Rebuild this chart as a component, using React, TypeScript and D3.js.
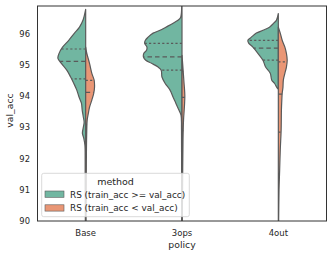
import React from "react";
import * as d3 from "d3";

// split violin: val_acc by policy, hue = method
const policies = ["Base", "3ops", "4out"];
const methods = ["RS (train_acc >= val_acc)", "RS (train_acc < val_acc)"];
const yTicks = [90, 91, 92, 93, 94, 95, 96];

// density profiles: [val_acc, relative density]
const baseHigh: [number, number][] = [
  [96.79, 0], [96.44, 0.07], [96.22, 0.16], [96.03, 0.29], [95.8, 0.44],
  [95.58, 0.6], [95.38, 0.69], [95.22, 0.72], [95.06, 0.63], [94.84, 0.49],
  [94.62, 0.39], [94.42, 0.31], [94.2, 0.23], [93.97, 0.17], [93.78, 0.11],
  [93.56, 0.09], [93.33, 0.06], [93.17, 0.04], [92.98, 0.065], [92.82, 0.085],
  [92.66, 0.05], [92.44, 0.02], [91.96, 0.013], [91.3, 0.013], [90, 0.008], [89.4, 0]
];
const baseLow: [number, number][] = [
  [95.58, 0], [95.38, 0.03], [95.06, 0.1], [94.74, 0.16], [94.52, 0.22],
  [94.29, 0.23], [94.1, 0.21], [93.88, 0.16], [93.65, 0.1], [93.46, 0.07],
  [93.24, 0.04], [92.76, 0.026], [91.96, 0.018], [91.0, 0.013], [90, 0.008], [89.4, 0]
];
const opsHigh: [number, number][] = [
  [96.95, 0.008], [96.63, 0.02], [96.5, 0.05], [96.35, 0.23], [96.22, 0.42],
  [96.12, 0.57], [96.03, 0.75], [95.9, 0.88], [95.8, 0.95], [95.71, 0.97],
  [95.58, 0.91], [95.48, 0.92], [95.38, 0.99], [95.26, 1.0], [95.16, 0.94],
  [95.06, 0.79], [94.94, 0.62], [94.84, 0.54], [94.62, 0.52], [94.42, 0.44],
  [94.2, 0.31], [93.97, 0.23], [93.78, 0.16], [93.56, 0.08], [93.4, 0.026],
  [92.92, 0.013], [90, 0.008], [89.4, 0]
];
const opsLow: [number, number][] = [
  [95.32, 0], [95.0, 0.02], [94.52, 0.047], [94.04, 0.073], [93.72, 0.065],
  [93.24, 0.04], [92.6, 0.026], [91.3, 0.016], [90, 0.008], [89.4, 0]
];
const outHigh: [number, number][] = [
  [96.66, 0], [96.44, 0.05], [96.35, 0.12], [96.22, 0.23], [96.12, 0.4],
  [96.03, 0.57], [95.9, 0.7], [95.8, 0.79], [95.71, 0.77], [95.58, 0.66],
  [95.38, 0.53], [95.16, 0.4], [94.94, 0.33], [94.74, 0.21], [94.52, 0.17],
  [94.42, 0.1], [94.29, 0.04], [94.23, 0]
];
const outLow: [number, number][] = [
  [96.22, 0], [96.03, 0.05], [95.8, 0.1], [95.58, 0.17], [95.38, 0.21],
  [95.16, 0.23], [94.94, 0.21], [94.74, 0.17], [94.52, 0.13], [94.29, 0.12],
  [94.1, 0.1], [93.88, 0.09], [93.56, 0.08], [92.92, 0.073], [92.28, 0.05],
  [91.63, 0.034], [90.99, 0.018], [90, 0.008], [89.4, 0]
];

// quartiles [q25, median, q75]
const baseHighQ = [94.56, 95.12, 95.52];
const baseLowQ = [93.1, 94.13, 94.51];
const opsHighQ = [94.84, 95.27, 95.7];
const opsLowQ = [92.9, 93.97, 94.8];
const outHighQ = [95.16, 95.55, 95.8];
const outLowQ = [92.85, 94.07, 95.11];

const profiles = [
  [baseHigh, baseLow],
  [opsHigh, opsLow],
  [outHigh, outLow]
];
const quartiles = [
  [baseHighQ, baseLowQ],
  [opsHighQ, opsLowQ],
  [outHighQ, outLowQ]
];

const colors = ["#71b6a1", "#e99675"];
const gray = "#5a5a5a";
const font = "DejaVu Sans, sans-serif";

export default function App() {
  const width = 332;
  const height = 256;
  const m = { left: 37.5, right: 326.5, top: 6, bottom: 221 };

  const x = d3.scaleBand().domain(policies).range([m.left, m.right]).padding(0);
  const y = d3.scaleLinear().domain([90, 96.9]).range([m.bottom, m.top]);
  const w = d3.scaleLinear().domain([0, 1]).range([0, x.bandwidth() * 0.4]);

  const densityAt = (prof: [number, number][], v: number) => {
    for (let i = 0; i < prof.length - 1; i++) {
      const [v0, d0] = prof[i];
      const [v1, d1] = prof[i + 1];
      if (v <= v0 && v >= v1) return d0 + ((v - v0) / (v1 - v0)) * (d1 - d0);
    }
    return 0;
  };

  return (
    <svg
      width={width}
      height={height}
      style={{ position: "absolute", left: 0, top: 0, background: "#fff" }}
    >
      <defs>
        <clipPath id="plot-clip">
          <rect x={m.left} y={m.top} width={m.right - m.left} height={m.bottom - m.top} />
        </clipPath>
      </defs>
      <g clipPath="url(#plot-clip)">
        {policies.map((p, i) => {
          const cx = (x(p) as number) + x.bandwidth() / 2;
          return profiles[i].map((prof, h) => {
            const sign = h === 0 ? -1 : 1;
            const area = d3
              .area<[number, number]>()
              .y((d) => y(d[0]))
              .x0(cx)
              .x1((d) => cx + sign * w(d[1]))
              .curve(d3.curveCatmullRom);
            const qs = quartiles[i][h];
            return (
              <g key={p + h}>
                <path
                  d={area(prof) || ""}
                  fill={colors[h]}
                  stroke={gray}
                  strokeWidth={1.2}
                  strokeLinejoin="round"
                />
                {qs.map((q, k) => (
                  <line
                    key={k}
                    x1={cx}
                    x2={cx + sign * w(densityAt(prof, q))}
                    y1={y(q)}
                    y2={y(q)}
                    stroke={gray}
                    strokeWidth={1.2}
                    strokeDasharray={k === 1 ? "4.5,3" : "2.2,2.2"}
                  />
                ))}
              </g>
            );
          });
        })}
      </g>

      {/* frame */}
      <rect
        x={m.left}
        y={m.top}
        width={m.right - m.left}
        height={m.bottom - m.top}
        fill="none"
        stroke="#333"
        strokeWidth={1}
      />

      {/* y tick labels */}
      {yTicks.map((t) => (
        <text
          key={t}
          x={m.left - 7.5}
          y={y(t)}
          dy="0.35em"
          textAnchor="end"
          fontFamily={font}
          fontSize={8.4}
          fill="#262626"
        >
          {t}
        </text>
      ))}
      <text
        transform={`translate(13,${(m.top + m.bottom) / 2 - 3}) rotate(-90)`}
        textAnchor="middle"
        fontFamily={font}
        fontSize={9.3}
        fill="#262626"
      >
        val_acc
      </text>

      {/* x tick labels */}
      {policies.map((p) => (
        <text
          key={p}
          x={(x(p) as number) + x.bandwidth() / 2}
          y={236}
          textAnchor="middle"
          fontFamily={font}
          fontSize={8.5}
          fill="#262626"
        >
          {p}
        </text>
      ))}
      <text
        x={(m.left + m.right) / 2}
        y={247.5}
        textAnchor="middle"
        fontFamily={font}
        fontSize={9.3}
        fill="#262626"
      >
        policy
      </text>

      {/* legend */}
      <g>
        <rect
          x={41.7}
          y={173.3}
          width={147.6}
          height={43.4}
          rx={2}
          fill="#fff"
          fillOpacity={0.8}
          stroke="#d0d0d0"
          strokeWidth={0.8}
        />
        <text
          x={115.5}
          y={184.5}
          textAnchor="middle"
          fontFamily={font}
          fontSize={9.5}
          fill="#262626"
        >
          method
        </text>
        {methods.map((mt, k) => (
          <g key={mt}>
            <rect
              x={45}
              y={191 + k * 13.8}
              width={19}
              height={6.3}
              fill={colors[k]}
              stroke={gray}
              strokeWidth={0.6}
            />
            <text
              x={70}
              y={197.5 + k * 13.8}
              fontFamily={font}
              fontSize={8.9}
              fill="#262626"
            >
              {mt}
            </text>
          </g>
        ))}
      </g>
    </svg>
  );
}
